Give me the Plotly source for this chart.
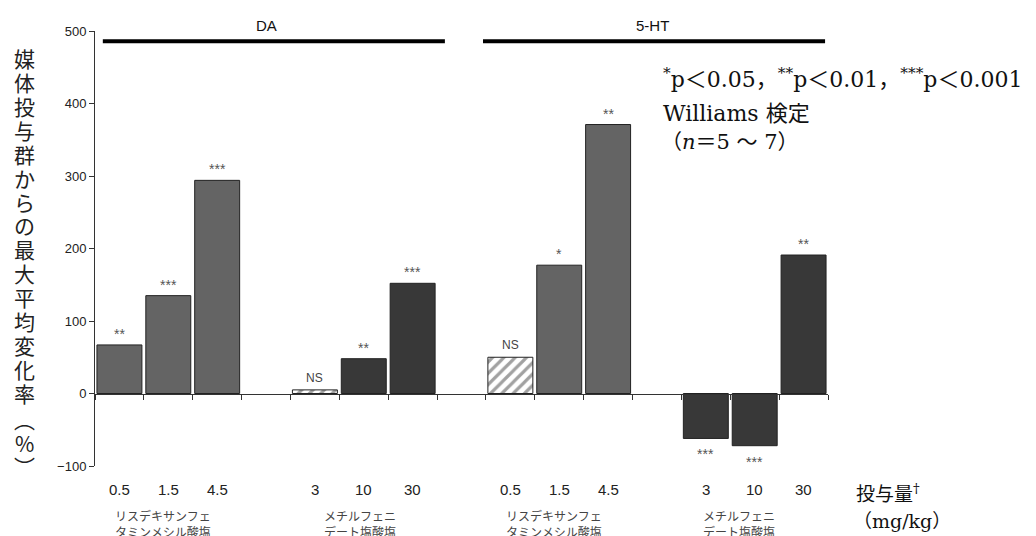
import plotly.graph_objects as go

# ---------------- data ----------------
doses = ["0.5", "1.5", "4.5", "", "3", "10", "30", "",
         "0.5", "1.5", "4.5", "", "3", "10", "30"]
values = [67, 135, 294, None, 5, 48, 152, None,
          50, 177, 371, None, -62, -72, 191]
drugs = ["lis", "lis", "lis", None, "mph", "mph", "mph", None,
         "lis", "lis", "lis", None, "mph", "mph", "mph"]
sig = ["**", "***", "***", "", "NS", "**", "***", "",
       "NS", "*", "**", "", "***", "***", "**"]
groups = ["DA", "5-HT"]
drug_names = ["リスデキサンフェ<br>タミンメシル酸塩", "メチルフェニ<br>デート塩酸塩",
              "リスデキサンフェ<br>タミンメシル酸塩", "メチルフェニ<br>デート塩酸塩"]
y_title = list("媒体投与群からの最大平均変化率") + ["︵", "%", "︶"]
y_ticks = [-100, 0, 100, 200, 300, 400, 500]

# ---------------- layout helpers ----------------
W, H = 1036, 536
L, R, T, B = 95, 828, 30.7, 466


def py(px):
    return (B - px) / (B - T)


def pxx(px):
    return (px - L) / (R - L)


xs = list(range(len(values)))
fill = {"lis": "#646464", "mph": "#383838"}
mcolors = ["#ffffff" if s == "NS" else fill.get(d, "#ffffff") for d, s in zip(drugs, sig)]
pat = ["/" if s == "NS" else "" for s in sig]

fig = go.Figure()
fig.add_bar(
    x=xs, y=values, width=0.92,
    marker=dict(color=mcolors, line=dict(color="#222222", width=1),
                pattern=dict(shape=pat, fgcolor="#7a7a7a", size=8, solidity=0.4)),
    hoverinfo="skip",
)

sans = "Liberation Sans, Arial"
serif = "DejaVu Serif, Noto Sans CJK JP"
ann = []
# significance labels
for i, (v, s) in enumerate(zip(values, sig)):
    if v is None or not s:
        continue
    if s == "NS":
        ann.append(dict(x=i, y=v, xref="x", yref="y", text=s, showarrow=False,
                        xanchor="center", yanchor="bottom", yshift=3,
                        font=dict(family=sans, size=12, color="#444444")))
    elif v >= 0:
        ann.append(dict(x=i, y=v, xref="x", yref="y", text=s, showarrow=False,
                        xanchor="center", yanchor="bottom", yshift=1,
                        font=dict(family=sans, size=14, color="#555555")))
    else:
        ann.append(dict(x=i, y=v, xref="x", yref="y", text=s, showarrow=False,
                        xanchor="center", yanchor="top", yshift=-6,
                        font=dict(family=sans, size=14, color="#555555")))

# dose labels
for i, d in enumerate(doses):
    if d:
        ann.append(dict(x=i, y=py(490), xref="x", yref="paper", text=d, showarrow=False,
                        xanchor="center", yanchor="middle",
                        font=dict(family=sans, size=15, color="#222222")))

# drug names
for xpos, name in zip([0.9, 4.92, 8.9, 12.68], drug_names):
    ann.append(dict(x=xpos, y=py(524), xref="x", yref="paper", text=name, showarrow=False,
                    xanchor="center", yanchor="middle", align="center",
                    font=dict(family="Noto Sans CJK JP", size=12, color="#444444")))

# group labels
for xpos, g in zip([3.0, 10.9], groups):
    ann.append(dict(x=xpos, y=py(25), xref="x", yref="paper", text=g, showarrow=False,
                    xanchor="center", yanchor="middle",
                    font=dict(family=sans, size=15, color="#111111")))

# vertical y title
ypos = [58 + 23.9 * k for k in range(15)] + [419, 443, 466]
for ch, yp in zip(y_title, ypos):
    ann.append(dict(x=pxx(24), y=py(yp), xref="paper", yref="paper", text=ch, showarrow=False,
                    xanchor="center", yanchor="middle",
                    font=dict(family="Noto Sans CJK JP", size=21, color="#222222")))

# statistics note
ann.append(dict(x=pxx(661), y=py(78), xref="paper", yref="paper", xanchor="left", yanchor="middle",
                text="<sup>*</sup>p＜0.05，<sup>**</sup>p＜0.01，<sup>***</sup>p＜0.001",
                showarrow=False, font=dict(family=serif, size=22, color="#111111")))
ann.append(dict(x=pxx(661), y=py(113), xref="paper", yref="paper", xanchor="left", yanchor="middle",
                text="Williams 検定", showarrow=False,
                font=dict(family=serif, size=22, color="#111111")))
ann.append(dict(x=pxx(659), y=py(142), xref="paper", yref="paper", xanchor="left", yanchor="middle",
                text="（<i>n</i>＝5 ～ 7）", showarrow=False,
                font=dict(family=serif, size=21, color="#111111")))

# dose unit label
ann.append(dict(x=pxx(854), y=py(493), xref="paper", yref="paper", xanchor="left", yanchor="middle",
                text="投与量<sup>†</sup>", showarrow=False,
                font=dict(family=serif, size=19, color="#111111")))
ann.append(dict(x=pxx(851), y=py(521), xref="paper", yref="paper", xanchor="left", yanchor="middle",
                text="（mg/kg）", showarrow=False,
                font=dict(family=serif, size=19, color="#111111")))

shapes = []
for x0, x1 in [(-0.34, 6.66), (7.44, 14.44)]:
    shapes.append(dict(type="line", xref="x", yref="paper", x0=x0, x1=x1,
                       y0=py(41), y1=py(41), line=dict(color="#000000", width=4)))

fig.update_layout(
    width=W, height=H,
    margin=dict(l=L, r=W - R, t=T, b=H - B, pad=0),
    paper_bgcolor="#ffffff", plot_bgcolor="#ffffff",
    showlegend=False,
    annotations=ann, shapes=shapes,
    xaxis=dict(range=[-0.5, len(values) - 0.5], showgrid=False, zeroline=False,
               showline=True, linecolor="#333333", linewidth=1,
               ticks="outside", ticklen=5, tickcolor="#333333",
               tickvals=[i - 0.5 for i in range(len(values) + 1)],
               showticklabels=False, anchor="free", position=100 / 600),
    yaxis=dict(range=[-100, 500], showgrid=False, zeroline=False,
               showline=True, linecolor="#333333", linewidth=1,
               ticks="outside", ticklen=5, tickcolor="#333333",
               tickvals=y_ticks,
               tickfont=dict(family=sans, size=13, color="#222222")),
)

fig.write_html("out.html", config={"displayModeBar": False},
               post_script="document.body.style.margin='0';document.body.style.overflow='hidden';")
